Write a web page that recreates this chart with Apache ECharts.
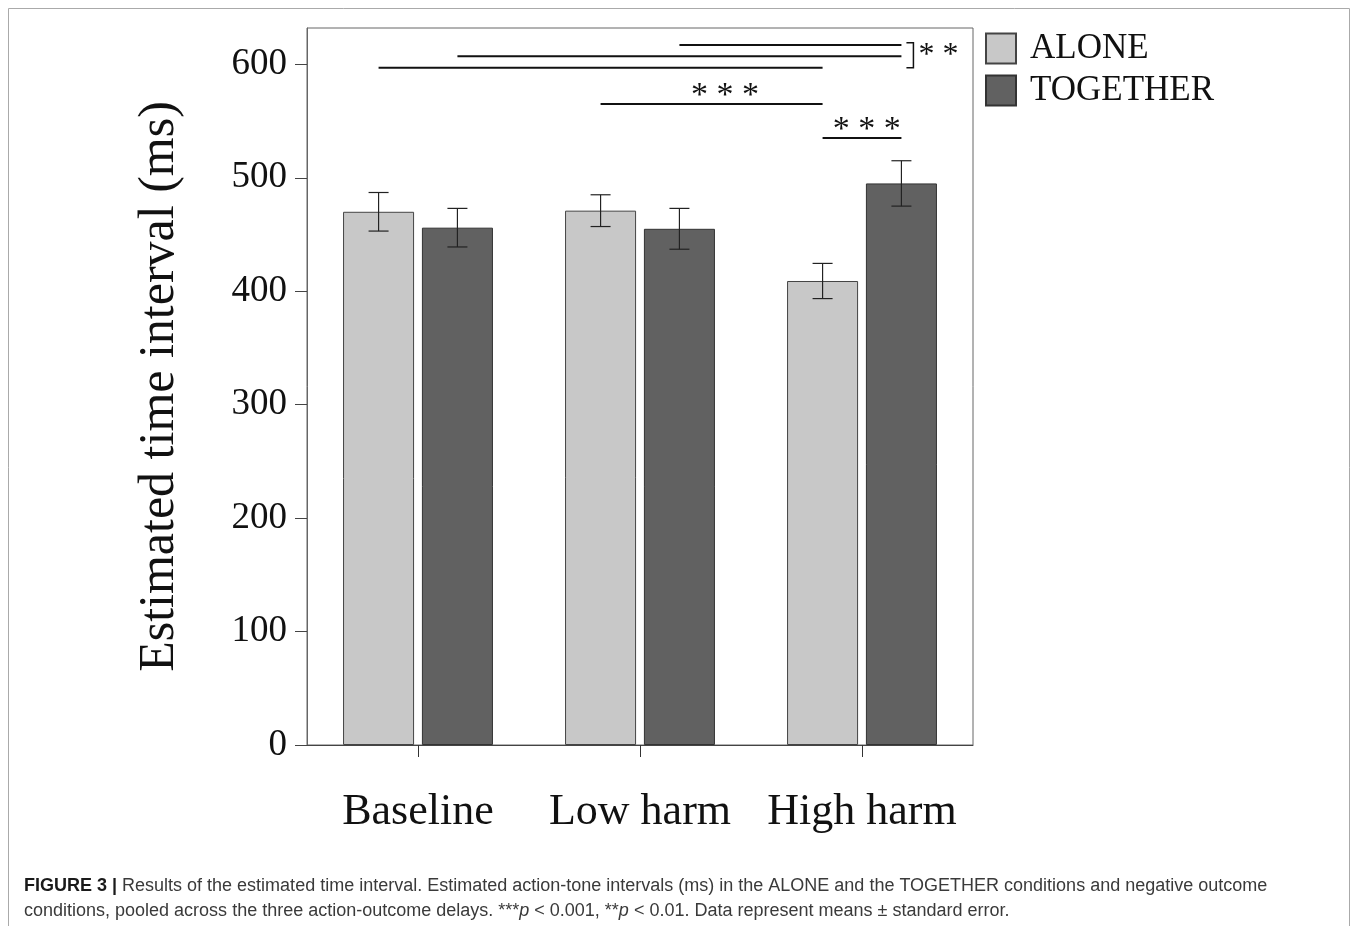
<!DOCTYPE html>
<html>
<head>
<meta charset="utf-8">
<script src="https://cdn.jsdelivr.net/npm/echarts@6/dist/echarts.min.js"></script>
<style>
  html, body { margin: 0; padding: 0; background: #fff; }
  #chart { width: 1358px; height: 926px; }
</style>
</head>
<body>
<div id="chart"></div>
<script>
// data
const categories = ['Baseline', 'Low harm', 'High harm'];
const aloneMeans = [470, 471, 409];
const aloneSE = [17, 14, 15.5];
const togetherMeans = [456, 455, 495];
const togetherSE = [17, 18, 20];
const yTicks = [0, 100, 200, 300, 400, 500, 600];

// significance lines: [category, group] -> [category, group] at a level (ms)
const sigFrom = [[1, 1], [0, 1], [0, 0], [1, 0], [2, 0]];
const sigTo = [[2, 1], [2, 1], [2, 0], [2, 0], [2, 1]];
const sigLevel = [617, 607, 597, 565, 535];
const sigText = ['', '', '', '* * *', '* * *'];
// bracket joining the two top lines
const bracketRange = [619, 597];
const bracketText = '* *';

const serif = '"Liberation Serif", "DejaVu Serif", serif';
const sans = '"Liberation Sans", Arial, sans-serif';
const chart = echarts.init(document.getElementById('chart'));

// horizontal offset of a group's bar centre from the category centre
function groupOffset(api, grp) {
  const band = api.size([1, 0])[0];
  const barW = band * 0.32;
  return (grp === 0 ? -1 : 1) * (barW + barW * 0.11) / 2;
}

function errorBars(grp) {
  return function (params, api) {
    const lo = api.coord([api.value(0), api.value(1)]);
    const hi = api.coord([api.value(0), api.value(2)]);
    const x = lo[0] + groupOffset(api, grp);
    const cap = 10;
    const st = { stroke: '#222', lineWidth: 1.2 };
    return {
      type: 'group',
      children: [
        { type: 'line', shape: { x1: x, y1: hi[1], x2: x, y2: lo[1] }, style: st },
        { type: 'line', shape: { x1: x - cap, y1: hi[1], x2: x + cap, y2: hi[1] }, style: st },
        { type: 'line', shape: { x1: x - cap, y1: lo[1], x2: x + cap, y2: lo[1] }, style: st }
      ]
    };
  };
}

function sigRender(params, api) {
  const i = params.dataIndex;
  const f = sigFrom[i], t = sigTo[i];
  const p1 = api.coord([f[0], sigLevel[i]]);
  const p2 = api.coord([t[0], sigLevel[i]]);
  const x1 = p1[0] + groupOffset(api, f[1]);
  const x2 = p2[0] + groupOffset(api, t[1]);
  const children = [
    { type: 'line', shape: { x1: x1, y1: p1[1], x2: x2, y2: p1[1] }, style: { stroke: '#111', lineWidth: 2 } }
  ];
  if (sigText[i]) {
    // label sits a little right of the line's midpoint, as in the figure
    children.push({
      type: 'text',
      style: { text: sigText[i], x: x1 + (x2 - x1) * 0.56, y: p1[1] - 8, align: 'center', verticalAlign: 'middle',
        font: '34px ' + serif, fill: '#111' }
    });
  }
  if (i === 0) {
    const top = api.coord([t[0], bracketRange[0]])[1];
    const bot = api.coord([t[0], bracketRange[1]])[1];
    const bx = x2 + 12;
    children.push({
      type: 'polyline',
      shape: { points: [[bx - 7, top], [bx, top], [bx, bot], [bx - 7, bot]] },
      style: { stroke: '#111', lineWidth: 1.5, fill: null }
    });
    const midY = api.coord([t[0], (sigLevel[0] + sigLevel[1]) / 2])[1];
    children.push({
      type: 'text',
      style: { text: bracketText, x: bx + 5, y: midY + 5, align: 'left', verticalAlign: 'middle',
        font: '32px ' + serif, fill: '#111' }
    });
  }
  return { type: 'group', children: children };
}

chart.setOption({
  animation: false,
  grid: { left: 307, right: 385, top: 28, bottom: 181, show: true, borderColor: '#666', borderWidth: 1 },
  legend: {
    data: ['ALONE', 'TOGETHER'],
    orient: 'vertical',
    left: 985,
    top: 31,
    padding: 0,
    itemWidth: 30,
    itemHeight: 30,
    itemGap: 7,
    icon: 'rect',
    textStyle: { fontFamily: serif, fontSize: 35, color: '#111', lineHeight: 30, padding: [0, 0, 0, 9] }
  },
  xAxis: {
    type: 'category',
    data: categories,
    axisLine: { lineStyle: { color: '#444' } },
    axisTick: { show: true, interval: 0, alignWithLabel: true, length: 12, lineStyle: { color: '#333' } },
    axisLabel: { interval: 0, fontFamily: serif, fontSize: 44, color: '#111', margin: 45 }
  },
  yAxis: {
    type: 'value',
    min: 0,
    max: 632,
    interval: 100,
    name: 'Estimated time interval (ms)',
    nameLocation: 'middle',
    nameGap: 122,
    nameTextStyle: { fontFamily: serif, fontSize: 50, color: '#111' },
    axisLine: { show: true, lineStyle: { color: '#666' } },
    axisTick: { show: true, length: 12, customValues: yTicks, lineStyle: { color: '#444' } },
    axisLabel: { customValues: yTicks, fontFamily: serif, fontSize: 37, color: '#111', margin: 20 },
    splitLine: { show: false }
  },
  series: [
    {
      name: 'ALONE', type: 'bar', data: aloneMeans, barWidth: '32%', barGap: '11%',
      itemStyle: { color: '#c8c8c8', borderColor: '#444', borderWidth: 1 }
    },
    {
      name: 'TOGETHER', type: 'bar', data: togetherMeans, barWidth: '32%', barGap: '11%',
      itemStyle: { color: '#616161', borderColor: '#333', borderWidth: 1 }
    },
    {
      type: 'custom', z: 5, renderItem: errorBars(0),
      data: aloneMeans.map((m, i) => [i, m - aloneSE[i], m + aloneSE[i]])
    },
    {
      type: 'custom', z: 5, renderItem: errorBars(1),
      data: togetherMeans.map((m, i) => [i, m - togetherSE[i], m + togetherSE[i]])
    },
    {
      type: 'custom', z: 5, renderItem: sigRender, clip: false,
      data: sigLevel.map((lv, i) => [sigTo[i][0], lv])
    }
  ],
  graphic: [
    {
      type: 'rect', silent: true, z: -1,
      shape: { x: 8.5, y: 8.5, width: 1341, height: 960 },
      style: { fill: null, stroke: '#aaa', lineWidth: 1 }
    },
    {
      type: 'text', left: 24, top: 877,
      style: {
        text: '{b|FIGURE 3 |} Results of the estimated time interval. Estimated action-tone intervals (ms) in the ALONE and the TOGETHER conditions and negative outcome',
        font: '18px ' + sans, fill: '#3a3a3a',
        rich: { b: { fontWeight: 'bold', fill: '#1a1a1a', fontSize: 18, fontFamily: sans } }
      }
    },
    {
      type: 'text', left: 24, top: 902,
      style: {
        text: 'conditions, pooled across the three action-outcome delays. ***{i|p} < 0.001, **{i|p} < 0.01. Data represent means \u00b1 standard error.',
        font: '18px ' + sans, fill: '#3a3a3a',
        rich: { i: { fontStyle: 'italic', fontSize: 18, fontFamily: sans } }
      }
    }
  ]
});
</script>
</body>
</html>
